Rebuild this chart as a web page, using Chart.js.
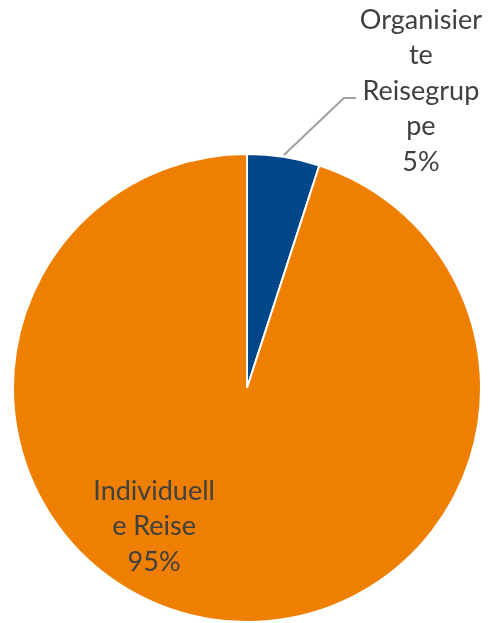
<!DOCTYPE html>
<html>
<head>
<meta charset="utf-8">
<script src="https://cdn.jsdelivr.net/npm/chart.js@4"></script>
<style>
  html, body { margin: 0; padding: 0; background: #fff; }
  #wrap { width: 491px; height: 623px; }
</style>
</head>
<body>
<div id="wrap"><canvas id="pie"></canvas></div>
<script>
// data
const categories = ['Organisierte Reisegruppe', 'Individuelle Reise'];
const labelLines = [['Organisier', 'te', 'Reisegrup', 'pe'], ['Individuell', 'e Reise']];
const shares = [5, 95];
const sliceColors = ['#00468b', '#ef7f00'];

const FONT = '27px Lato';
const TEXT_COLOR = '#404040';
const LINE_H = 35.5;

// draws the data labels (outside label with leader line for the small slice)
const pieLabels = {
  id: 'pieLabels',
  afterDatasetsDraw(chart) {
    const ctx = chart.ctx;
    const arcs = chart.getDatasetMeta(0).data;
    ctx.save();
    ctx.font = FONT;
    ctx.fillStyle = TEXT_COLOR;
    ctx.textAlign = 'center';
    ctx.textBaseline = 'middle';

    arcs.forEach((arc, i) => {
      const { x, y, outerRadius, startAngle, endAngle } = arc.getProps(['x', 'y', 'outerRadius', 'startAngle', 'endAngle'], true);
      const lines = labelLines[i].concat([shares[i] + '%']);
      if (i === 0) {
        // leader line from slice edge
        const mid = (startAngle + endAngle) / 2;
        const sx = x + Math.cos(mid) * (outerRadius + 2);
        const sy = y + Math.sin(mid) * (outerRadius + 2);
        const ex = sx + 60, ey = sy - 57;
        ctx.strokeStyle = '#a0a0a0';
        ctx.lineWidth = 2;
        ctx.beginPath();
        ctx.moveTo(sx, sy);
        ctx.lineTo(ex, ey);
        ctx.lineTo(ex + 12, ey);
        ctx.stroke();
        const tx = ex + 77;
        const ty0 = ey - 2 * LINE_H - 7;
        lines.forEach((t, k) => ctx.fillText(t, tx, ty0 + k * LINE_H));
      } else {
        const tx = x - outerRadius * 0.397;
        const ty0 = y + outerRadius * 0.44;
        lines.forEach((t, k) => ctx.fillText(t, tx, ty0 + k * LINE_H));
      }
    });
    ctx.restore();
  }
};

new Chart(document.getElementById('pie'), {
  type: 'pie',
  data: {
    labels: categories,
    datasets: [{
      data: shares,
      backgroundColor: sliceColors,
      borderColor: '#ffffff',
      borderWidth: 2
    }]
  },
  options: {
    responsive: true,
    maintainAspectRatio: false,
    animation: false,
    layout: { padding: { top: 153, left: 10, right: 7, bottom: 0 } },
    plugins: {
      legend: { display: false },
      tooltip: { enabled: false }
    }
  },
  plugins: [pieLabels]
});
</script>
</body>
</html>
